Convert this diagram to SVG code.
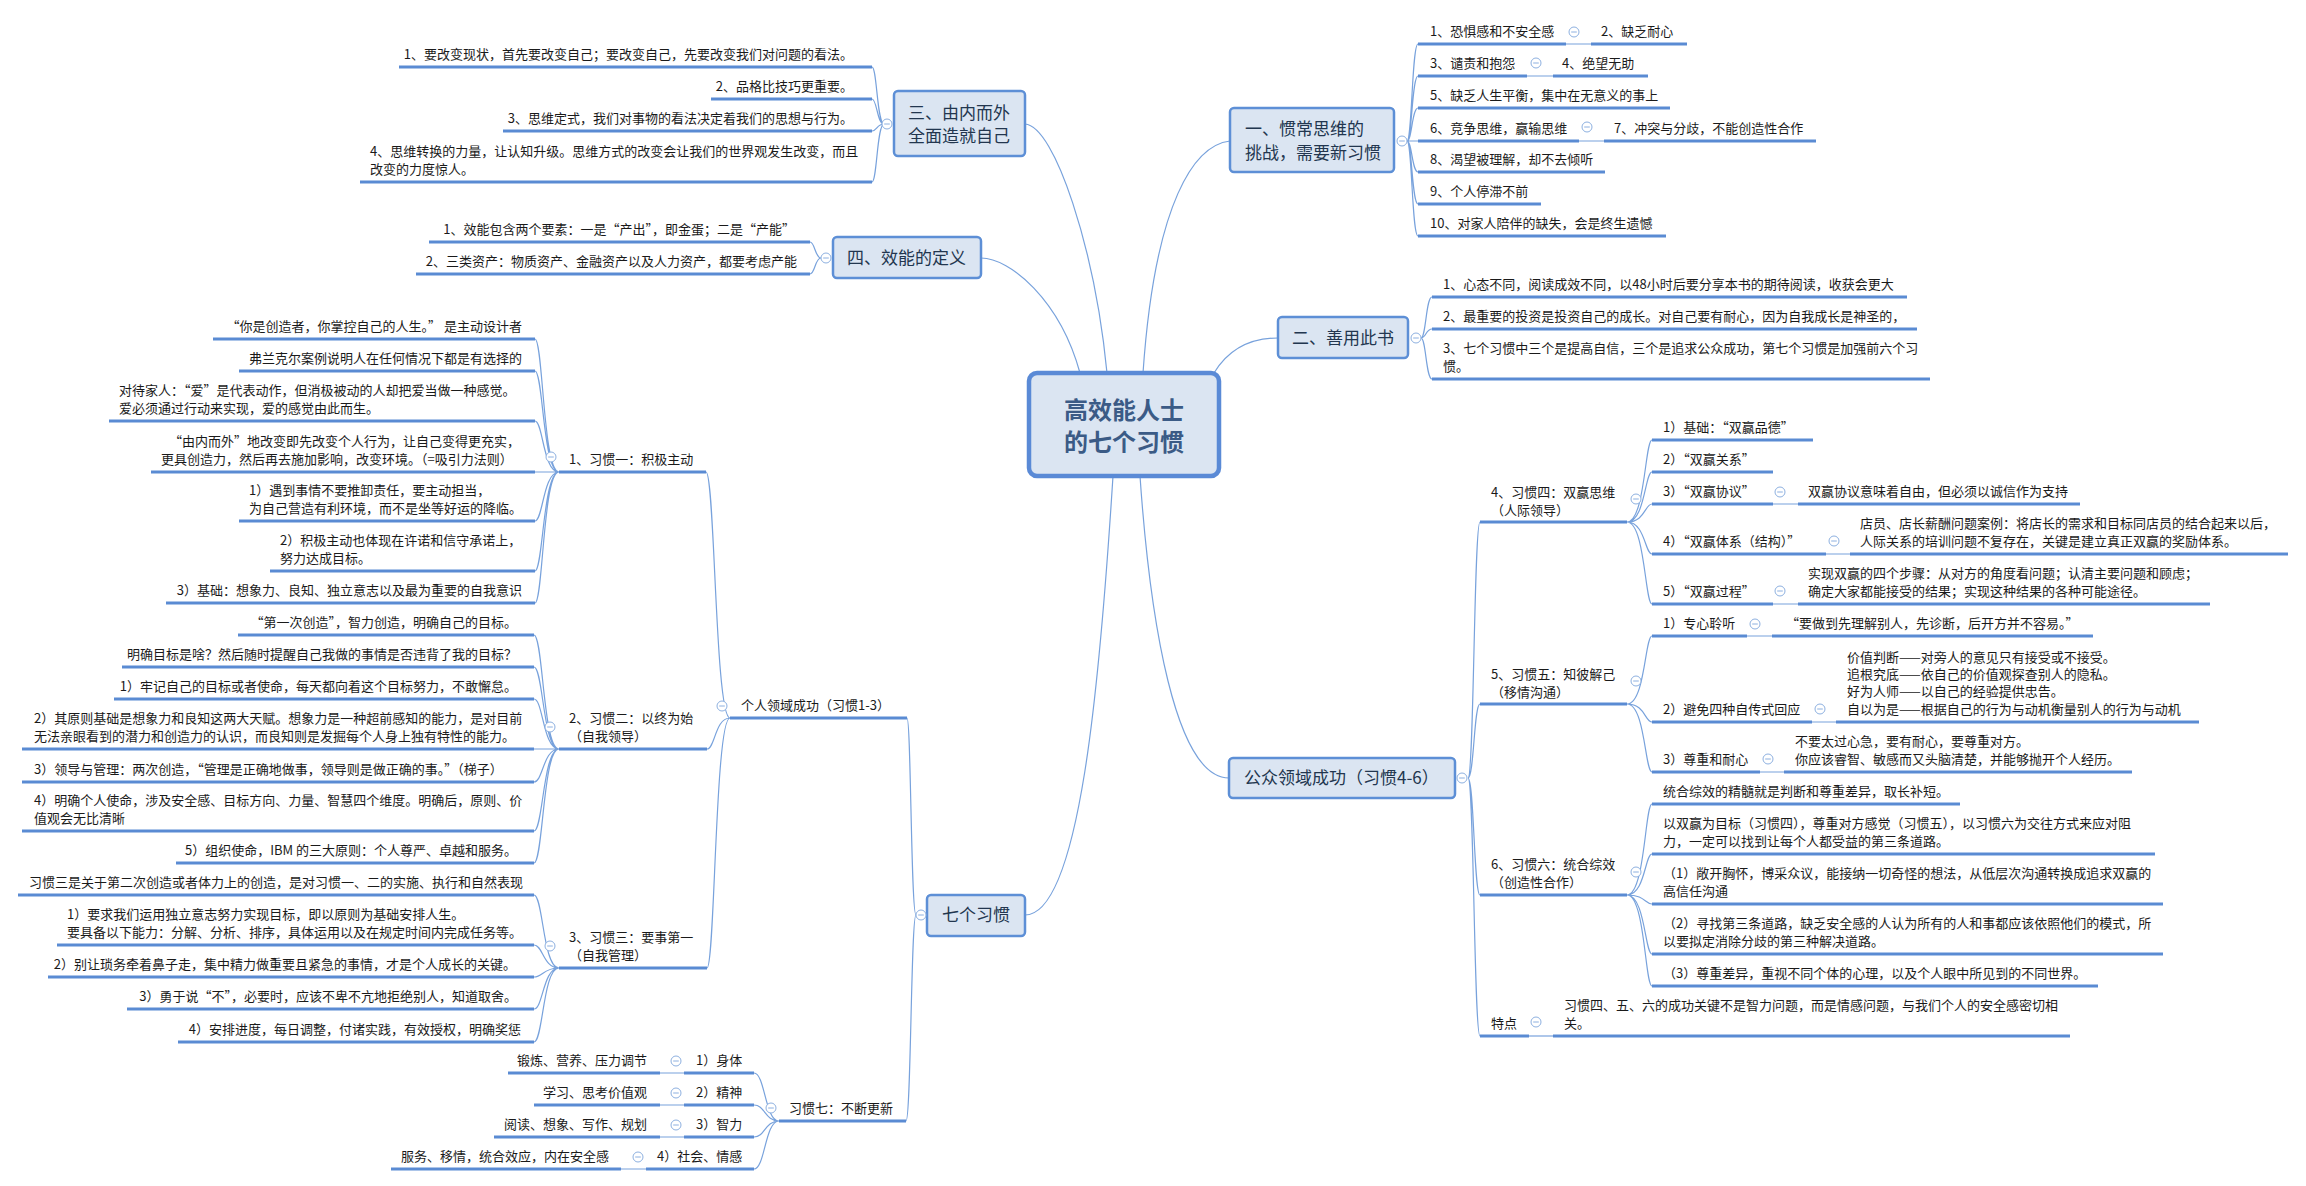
<svg xmlns="http://www.w3.org/2000/svg" xmlns:xlink="http://www.w3.org/1999/xlink" width="2306" height="1186" viewBox="0 0 2306 1186">
<style>
text{font-family:"Noto Sans CJK SC","Liberation Sans",sans-serif;font-size:13px;fill:#1a1a1a}
.e{text-anchor:end}
.m{font-size:17px;fill:#22364f}
.ct{font-size:24px;font-weight:bold;fill:#3b5b86;text-anchor:middle}
.u{stroke:#5a8bd3;stroke-width:3;fill:none}
.c{stroke:#78a2dc;stroke-width:1.2;fill:none}
.box{fill:#dbe5f2;stroke:#5d8fd6;stroke-width:2.5}
.cbox{fill:#dbe5f2;stroke:#5a8ad6;stroke-width:4.5}
</style>
<defs>
<g id="col"><circle r="5" fill="#fff" stroke="#8db0e0" stroke-width="1"/><line x1="-2.8" y1="0" x2="2.8" y2="0" stroke="#8db0e0" stroke-width="1"/></g>
</defs>
<rect width="2306" height="1186" fill="#fff"/>

<g id="connectors">
<path class="c" d="M1025,124 C1055,126 1095,250 1107,373"/>
<path class="c" d="M981,258 C1010,258 1060,300 1080,373"/>
<path class="c" d="M1230,141 C1195,145 1155,200 1143,373"/>
<path class="c" d="M1278,338 C1250,338 1228,350 1214,373"/>
<path class="c" d="M1140,476 C1150,620 1175,778 1229,778"/>
<path class="c" d="M1113,476 C1100,680 1080,915 1025,915"/>
<!-- 三 -->
<path class="c" d="M884,124 C877,124 877,67 872,67 M884,124 C877,124 877,99 872,99 M884,124 C877,124 877,131 872,131 M884,124 C877,124 877,182 872,182"/>
<!-- 四 -->
<path class="c" d="M821,258 C815,258 815,242 810,242 M821,258 C815,258 815,274 810,274"/>
<!-- 七 -->
<path class="c" d="M916,915 C911,915 911,718 907,718 M916,915 C911,915 911,1121 906,1121"/>
<!-- 个人领域 -->
<path class="c" d="M730,718 C715,718 715,472 706,472 M730,718 C715,718 715,749 707,749 M730,718 C715,718 715,968 707,968"/>
<!-- 习惯一 -->
<path class="c" d="M559,472 C543,472 543,339 535,339 M559,472 C543,472 543,371 535,371 M559,472 C543,472 543,421 535,421 M559,472 L535,472 M559,472 C543,472 543,521 535,521 M559,472 C543,472 543,571 535,571 M559,472 C543,472 543,603 535,603"/>
<!-- 习惯二 -->
<path class="c" d="M559,749 C543,749 543,635 534,635 M559,749 C543,749 543,667 534,667 M559,749 C543,749 543,699 534,699 M559,749 L534,749 M559,749 C543,749 543,782 534,782 M559,749 C543,749 543,831 534,831 M559,749 C543,749 543,863 534,863"/>
<!-- 习惯三 -->
<path class="c" d="M559,968 C543,968 543,895 534,895 M559,968 C543,968 543,945 534,945 M559,968 C543,968 543,977 534,977 M559,968 C543,968 543,1009 534,1009 M559,968 C543,968 543,1042 534,1042"/>
<!-- 习惯七 -->
<path class="c" d="M779,1121 C765,1121 765,1073 754,1073 M779,1121 C765,1121 765,1105 754,1105 M779,1121 C765,1121 765,1137 754,1137 M779,1121 C765,1121 765,1169 754,1169"/>
<path class="c" d="M660,1073 H684 M660,1105 H684 M660,1137 H684 M621,1169 H646"/>
<!-- 一 -->
<path class="c" d="M1407,141 C1412,141 1412,44 1418,44 M1407,141 C1412,141 1412,76 1418,76 M1407,141 C1412,141 1412,108 1418,108 M1407,141 L1418,141 M1407,141 C1412,141 1412,172 1418,172 M1407,141 C1412,141 1412,204 1418,204 M1407,141 C1412,141 1412,236 1418,236"/>
<path class="c" d="M1566,44 H1591 M1527,76 H1553 M1579,141 H1604"/>
<!-- 二 -->
<path class="c" d="M1421,338 C1426,338 1426,297 1432,297 M1421,338 C1426,338 1426,329 1432,329 M1421,338 C1426,338 1426,379 1432,379"/>
<!-- 公众 -->
<path class="c" d="M1468,778 C1474,778 1474,522 1480,522 M1468,778 C1474,778 1474,704 1480,704 M1468,778 C1474,778 1474,895 1480,895 M1468,778 C1474,778 1474,1036 1480,1036"/>
<!-- 习惯四 -->
<path class="c" d="M1627,522 C1645,522 1645,440 1652,440 M1627,522 C1645,522 1645,472 1652,472 M1627,522 C1645,522 1645,504 1652,504 M1627,522 C1645,522 1645,554 1652,554 M1627,522 C1645,522 1645,604 1652,604"/>
<path class="c" d="M1773,504 H1798 M1826,554 H1850 M1773,604 H1798"/>
<!-- 习惯五 -->
<path class="c" d="M1627,704 C1645,704 1645,636 1652,636 M1627,704 C1645,704 1645,722 1652,722 M1627,704 C1645,704 1645,772 1652,772"/>
<path class="c" d="M1747,636 H1772 M1812,722 H1836 M1760,772 H1784"/>
<!-- 习惯六 -->
<path class="c" d="M1627,895 C1645,895 1645,804 1652,804 M1627,895 C1645,895 1645,854 1652,854 M1627,895 C1645,895 1645,904 1652,904 M1627,895 C1645,895 1645,954 1652,954 M1627,895 C1645,895 1645,986 1652,986"/>
<!-- 特点 -->
<path class="c" d="M1529,1036 H1553"/>
</g>

<g id="central">
<rect class="cbox" x="1029" y="373" width="190" height="103" rx="8"/>
<text class="ct" x="1124" y="419">高效能人士</text>
<text class="ct" x="1124" y="451">的七个习惯</text>
</g>

<g id="n3">
<rect class="box" x="894" y="91" width="131" height="65" rx="4"/>
<text class="m" x="908" y="119">三、由内而外</text>
<text class="m" x="908" y="142">全面造就自己</text>
<use xlink:href="#col" x="887" y="124"/>
</g>
<g id="n3-items">
<text class="e" x="853" y="59">1、要改变现状，首先要改变自己；要改变自己，先要改变我们对问题的看法。</text>
<line class="u" x1="399" y1="67" x2="872" y2="67"/>
<text class="e" x="853" y="91">2、品格比技巧更重要。</text>
<line class="u" x1="711" y1="99" x2="872" y2="99"/>
<text class="e" x="853" y="123">3、思维定式，我们对事物的看法决定着我们的思想与行为。</text>
<line class="u" x1="503" y1="131" x2="872" y2="131"/>
<text x="370" y="156">4、思维转换的力量，让认知升级。思维方式的改变会让我们的世界观发生改变，而且</text>
<text x="370" y="174">改变的力度惊人。</text>
<line class="u" x1="360" y1="182" x2="872" y2="182"/>
</g>

<g id="n4">
<rect class="box" x="833" y="237" width="148" height="41" rx="4"/>
<text class="m" x="847" y="264">四、效能的定义</text>
<use xlink:href="#col" x="826" y="258"/>
</g>
<g id="n4-items">
<text class="e" x="795" y="234">1、效能包含两个要素：一是“产出”，即金蛋；二是“产能”</text>
<line class="u" x1="429" y1="242" x2="810" y2="242"/>
<text class="e" x="797" y="266">2、三类资产：物质资产、金融资产以及人力资产，都要考虑产能</text>
<line class="u" x1="416" y1="274" x2="810" y2="274"/>
</g>

<g id="n7">
<rect class="box" x="927" y="895" width="98" height="41" rx="4"/>
<text class="m" x="942" y="921">七个习惯</text>
<use xlink:href="#col" x="921" y="915"/>
</g>

<g id="personal">
<text x="741" y="710">个人领域成功（习惯1-3）</text>
<line class="u" x1="730" y1="718" x2="907" y2="718"/>
<use xlink:href="#col" x="722" y="706"/>
</g>

<g id="h1">
<text x="569" y="464">1、习惯一：积极主动</text>
<line class="u" x1="559" y1="472" x2="706" y2="472"/>
<use xlink:href="#col" x="551" y="457"/>
</g>
<g id="h1-items">
<text class="e" x="522" y="331">“你是创造者，你掌控自己的人生。” 是主动设计者</text>
<line class="u" x1="213" y1="339" x2="535" y2="339"/>
<text class="e" x="522" y="363">弗兰克尔案例说明人在任何情况下都是有选择的</text>
<line class="u" x1="239" y1="371" x2="535" y2="371"/>
<text x="119" y="395">对待家人：“爱”是代表动作，但消极被动的人却把爱当做一种感觉。</text>
<text x="119" y="413">爱必须通过行动来实现，爱的感觉由此而生。</text>
<line class="u" x1="109" y1="421" x2="535" y2="421"/>
<text x="169" y="446">“由内而外”地改变即先改变个人行为，让自己变得更充实，</text>
<text x="161" y="464">更具创造力，然后再去施加影响，改变环境。（=吸引力法则）</text>
<line class="u" x1="151" y1="472" x2="535" y2="472"/>
<text x="249" y="495">1）遇到事情不要推卸责任，要主动担当，</text>
<text x="249" y="513">为自己营造有利环境，而不是坐等好运的降临。</text>
<line class="u" x1="239" y1="521" x2="535" y2="521"/>
<text x="280" y="545">2）积极主动也体现在许诺和信守承诺上，</text>
<text x="280" y="563">努力达成目标。</text>
<line class="u" x1="270" y1="571" x2="535" y2="571"/>
<text class="e" x="522" y="595">3）基础：想象力、良知、独立意志以及最为重要的自我意识</text>
<line class="u" x1="166" y1="603" x2="535" y2="603"/>
</g>

<g id="h2">
<text x="569" y="723">2、习惯二：以终为始</text>
<text x="569" y="741">（自我领导）</text>
<line class="u" x1="559" y1="749" x2="707" y2="749"/>
<use xlink:href="#col" x="550" y="727"/>
</g>
<g id="h2-items">
<text class="e" x="517" y="627">“第一次创造”，智力创造，明确自己的目标。</text>
<line class="u" x1="238" y1="635" x2="534" y2="635"/>
<text class="e" x="517" y="659">明确目标是啥？然后随时提醒自己我做的事情是否违背了我的目标？</text>
<line class="u" x1="122" y1="667" x2="534" y2="667"/>
<text class="e" x="517" y="691">1）牢记自己的目标或者使命，每天都向着这个目标努力，不敢懈怠。</text>
<line class="u" x1="114" y1="699" x2="534" y2="699"/>
<text x="34" y="723">2）其原则基础是想象力和良知这两大天赋。想象力是一种超前感知的能力，是对目前</text>
<text x="34" y="741">无法亲眼看到的潜力和创造力的认识，而良知则是发掘每个人身上独有特性的能力。</text>
<line class="u" x1="22" y1="749" x2="534" y2="749"/>
<text x="34" y="774">3）领导与管理：两次创造，“管理是正确地做事，领导则是做正确的事。”（梯子）</text>
<line class="u" x1="22" y1="782" x2="534" y2="782"/>
<text x="34" y="805">4）明确个人使命，涉及安全感、目标方向、力量、智慧四个维度。明确后，原则、价</text>
<text x="34" y="823">值观会无比清晰</text>
<line class="u" x1="22" y1="831" x2="534" y2="831"/>
<text class="e" x="517" y="855">5）组织使命，IBM 的三大原则：个人尊严、卓越和服务。</text>
<line class="u" x1="176" y1="863" x2="534" y2="863"/>
</g>

<g id="h3">
<text x="569" y="942">3、习惯三：要事第一</text>
<text x="569" y="960">（自我管理）</text>
<line class="u" x1="559" y1="968" x2="707" y2="968"/>
<use xlink:href="#col" x="550" y="946"/>
</g>
<g id="h3-items">
<text x="29" y="887">习惯三是关于第二次创造或者体力上的创造，是对习惯一、二的实施、执行和自然表现</text>
<line class="u" x1="18" y1="895" x2="534" y2="895"/>
<text x="67" y="919">1）要求我们运用独立意志努力实现目标，即以原则为基础安排人生。</text>
<text x="67" y="937">要具备以下能力：分解、分析、排序，具体运用以及在规定时间内完成任务等。</text>
<line class="u" x1="57" y1="945" x2="534" y2="945"/>
<text class="e" x="516" y="969">2）别让琐务牵着鼻子走，集中精力做重要且紧急的事情，才是个人成长的关键。</text>
<line class="u" x1="48" y1="977" x2="534" y2="977"/>
<text class="e" x="517" y="1001">3）勇于说“不”，必要时，应该不卑不亢地拒绝别人，知道取舍。</text>
<line class="u" x1="127" y1="1009" x2="534" y2="1009"/>
<text class="e" x="521" y="1034">4）安排进度，每日调整，付诸实践，有效授权，明确奖惩</text>
<line class="u" x1="178" y1="1042" x2="534" y2="1042"/>
</g>

<g id="h7">
<text x="789" y="1113">习惯七：不断更新</text>
<line class="u" x1="779" y1="1121" x2="906" y2="1121"/>
<use xlink:href="#col" x="771" y="1108"/>
</g>
<g id="h7-items">
<text x="696" y="1065">1）身体</text>
<line class="u" x1="684" y1="1073" x2="754" y2="1073"/>
<use xlink:href="#col" x="676" y="1061"/>
<text class="e" x="647" y="1065">锻炼、营养、压力调节</text>
<line class="u" x1="508" y1="1073" x2="660" y2="1073"/>
<text x="696" y="1097">2）精神</text>
<line class="u" x1="684" y1="1105" x2="754" y2="1105"/>
<use xlink:href="#col" x="676" y="1093"/>
<text class="e" x="647" y="1097">学习、思考价值观</text>
<line class="u" x1="534" y1="1105" x2="660" y2="1105"/>
<text x="696" y="1129">3）智力</text>
<line class="u" x1="684" y1="1137" x2="754" y2="1137"/>
<use xlink:href="#col" x="676" y="1125"/>
<text class="e" x="647" y="1129">阅读、想象、写作、规划</text>
<line class="u" x1="494" y1="1137" x2="660" y2="1137"/>
<text x="657" y="1161">4）社会、情感</text>
<line class="u" x1="646" y1="1169" x2="754" y2="1169"/>
<use xlink:href="#col" x="638" y="1157"/>
<text class="e" x="609" y="1161">服务、移情，统合效应，内在安全感</text>
<line class="u" x1="391" y1="1169" x2="621" y2="1169"/>
</g>

<g id="n1">
<rect class="box" x="1230" y="108" width="164" height="64" rx="4"/>
<text class="m" x="1245" y="135">一、惯常思维的</text>
<text class="m" x="1245" y="159">挑战，需要新习惯</text>
<use xlink:href="#col" x="1402" y="141"/>
</g>
<g id="n1-items">
<text x="1430" y="36">1、恐惧感和不安全感</text>
<line class="u" x1="1418" y1="44" x2="1566" y2="44"/>
<use xlink:href="#col" x="1574" y="32"/>
<text x="1601" y="36">2、缺乏耐心</text>
<line class="u" x1="1591" y1="44" x2="1687" y2="44"/>
<text x="1430" y="68">3、谴责和抱怨</text>
<line class="u" x1="1418" y1="76" x2="1527" y2="76"/>
<use xlink:href="#col" x="1536" y="63"/>
<text x="1562" y="68">4、绝望无助</text>
<line class="u" x1="1553" y1="76" x2="1648" y2="76"/>
<text x="1430" y="100">5、缺乏人生平衡，集中在无意义的事上</text>
<line class="u" x1="1418" y1="108" x2="1670" y2="108"/>
<text x="1430" y="133">6、竞争思维，赢输思维</text>
<line class="u" x1="1418" y1="141" x2="1579" y2="141"/>
<use xlink:href="#col" x="1587" y="127"/>
<text x="1614" y="133">7、冲突与分歧，不能创造性合作</text>
<line class="u" x1="1604" y1="141" x2="1816" y2="141"/>
<text x="1430" y="164">8、渴望被理解，却不去倾听</text>
<line class="u" x1="1418" y1="172" x2="1605" y2="172"/>
<text x="1430" y="196">9、个人停滞不前</text>
<line class="u" x1="1418" y1="204" x2="1541" y2="204"/>
<text x="1430" y="228">10、对家人陪伴的缺失，会是终生遗憾</text>
<line class="u" x1="1418" y1="236" x2="1666" y2="236"/>
</g>

<g id="n2">
<rect class="box" x="1278" y="317" width="130" height="41" rx="4"/>
<text class="m" x="1292" y="344">二、善用此书</text>
<use xlink:href="#col" x="1416" y="338"/>
</g>
<g id="n2-items">
<text x="1443" y="289">1、心态不同，阅读成效不同，以48小时后要分享本书的期待阅读，收获会更大</text>
<line class="u" x1="1432" y1="297" x2="1907" y2="297"/>
<text x="1443" y="321">2、最重要的投资是投资自己的成长。对自己要有耐心，因为自我成长是神圣的，</text>
<line class="u" x1="1432" y1="329" x2="1917" y2="329"/>
<text x="1443" y="353">3、七个习惯中三个是提高自信，三个是追求公众成功，第七个习惯是加强前六个习</text>
<text x="1443" y="371">惯。</text>
<line class="u" x1="1432" y1="379" x2="1930" y2="379"/>
</g>

<g id="public">
<rect class="box" x="1229" y="758" width="226" height="40" rx="4"/>
<text class="m" x="1244" y="784">公众领域成功（习惯4-6）</text>
<use xlink:href="#col" x="1462" y="778"/>
</g>

<g id="h4">
<text x="1491" y="497">4、习惯四：双赢思维</text>
<text x="1491" y="515">（人际领导）</text>
<line class="u" x1="1480" y1="522" x2="1627" y2="522"/>
<use xlink:href="#col" x="1636" y="499"/>
</g>
<g id="h4-items">
<text x="1663" y="432">1）基础：“双赢品德”</text>
<line class="u" x1="1652" y1="440" x2="1813" y2="440"/>
<text x="1663" y="464">2）“双赢关系”</text>
<line class="u" x1="1652" y1="472" x2="1773" y2="472"/>
<text x="1663" y="496">3）“双赢协议”</text>
<line class="u" x1="1652" y1="504" x2="1773" y2="504"/>
<use xlink:href="#col" x="1780" y="492"/>
<text x="1808" y="496">双赢协议意味着自由，但必须以诚信作为支持</text>
<line class="u" x1="1798" y1="504" x2="2080" y2="504"/>
<text x="1663" y="546">4）“双赢体系（结构）”</text>
<line class="u" x1="1652" y1="554" x2="1826" y2="554"/>
<use xlink:href="#col" x="1834" y="541"/>
<text x="1860" y="528">店员、店长薪酬问题案例：将店长的需求和目标同店员的结合起来以后，</text>
<text x="1860" y="546">人际关系的培训问题不复存在，关键是建立真正双赢的奖励体系。</text>
<line class="u" x1="1850" y1="554" x2="2288" y2="554"/>
<text x="1663" y="596">5）“双赢过程”</text>
<line class="u" x1="1652" y1="604" x2="1773" y2="604"/>
<use xlink:href="#col" x="1780" y="591"/>
<text x="1808" y="578">实现双赢的四个步骤：从对方的角度看问题；认清主要问题和顾虑；</text>
<text x="1808" y="596">确定大家都能接受的结果；实现这种结果的各种可能途径。</text>
<line class="u" x1="1798" y1="604" x2="2210" y2="604"/>
</g>

<g id="h5">
<text x="1491" y="679">5、习惯五：知彼解己</text>
<text x="1491" y="697">（移情沟通）</text>
<line class="u" x1="1480" y1="704" x2="1627" y2="704"/>
<use xlink:href="#col" x="1636" y="681"/>
</g>
<g id="h5-items">
<text x="1663" y="628">1）专心聆听</text>
<line class="u" x1="1652" y1="636" x2="1747" y2="636"/>
<use xlink:href="#col" x="1755" y="624"/>
<text x="1786" y="628">“要做到先理解别人，先诊断，后开方并不容易。”</text>
<line class="u" x1="1772" y1="636" x2="2093" y2="636"/>
<text x="1663" y="714">2）避免四种自传式回应</text>
<line class="u" x1="1652" y1="722" x2="1812" y2="722"/>
<use xlink:href="#col" x="1820" y="709"/>
<text x="1847" y="662">价值判断——对旁人的意见只有接受或不接受。</text>
<text x="1847" y="679">追根究底——依自己的价值观探查别人的隐私。</text>
<text x="1847" y="696">好为人师——以自己的经验提供忠告。</text>
<text x="1847" y="714">自以为是——根据自己的行为与动机衡量别人的行为与动机</text>
<line class="u" x1="1836" y1="722" x2="2199" y2="722"/>
<text x="1663" y="764">3）尊重和耐心</text>
<line class="u" x1="1652" y1="772" x2="1760" y2="772"/>
<use xlink:href="#col" x="1768" y="759"/>
<text x="1795" y="746">不要太过心急，要有耐心，要尊重对方。</text>
<text x="1795" y="764">你应该睿智、敏感而又头脑清楚，并能够抛开个人经历。</text>
<line class="u" x1="1784" y1="772" x2="2132" y2="772"/>
</g>

<g id="h6">
<text x="1491" y="869">6、习惯六：统合综效</text>
<text x="1491" y="887">（创造性合作）</text>
<line class="u" x1="1480" y1="895" x2="1627" y2="895"/>
<use xlink:href="#col" x="1636" y="872"/>
</g>
<g id="h6-items">
<text x="1663" y="796">统合综效的精髓就是判断和尊重差异，取长补短。</text>
<line class="u" x1="1652" y1="804" x2="1960" y2="804"/>
<text x="1663" y="828">以双赢为目标（习惯四），尊重对方感觉（习惯五），以习惯六为交往方式来应对阻</text>
<text x="1663" y="846">力，一定可以找到让每个人都受益的第三条道路。</text>
<line class="u" x1="1652" y1="854" x2="2155" y2="854"/>
<text x="1663" y="878">（1）敞开胸怀，博采众议，能接纳一切奇怪的想法，从低层次沟通转换成追求双赢的</text>
<text x="1663" y="896">高信任沟通</text>
<line class="u" x1="1652" y1="904" x2="2163" y2="904"/>
<text x="1663" y="928">（2）寻找第三条道路，缺乏安全感的人认为所有的人和事都应该依照他们的模式，所</text>
<text x="1663" y="946">以要拟定消除分歧的第三种解决道路。</text>
<line class="u" x1="1652" y1="954" x2="2163" y2="954"/>
<text x="1663" y="978">（3）尊重差异，重视不同个体的心理，以及个人眼中所见到的不同世界。</text>
<line class="u" x1="1652" y1="986" x2="2098" y2="986"/>
</g>

<g id="tedian">
<text x="1491" y="1028">特点</text>
<line class="u" x1="1480" y1="1036" x2="1529" y2="1036"/>
<use xlink:href="#col" x="1536" y="1022"/>
<text x="1564" y="1010">习惯四、五、六的成功关键不是智力问题，而是情感问题，与我们个人的安全感密切相</text>
<text x="1564" y="1028">关。</text>
<line class="u" x1="1553" y1="1036" x2="2070" y2="1036"/>
</g>
</svg>
